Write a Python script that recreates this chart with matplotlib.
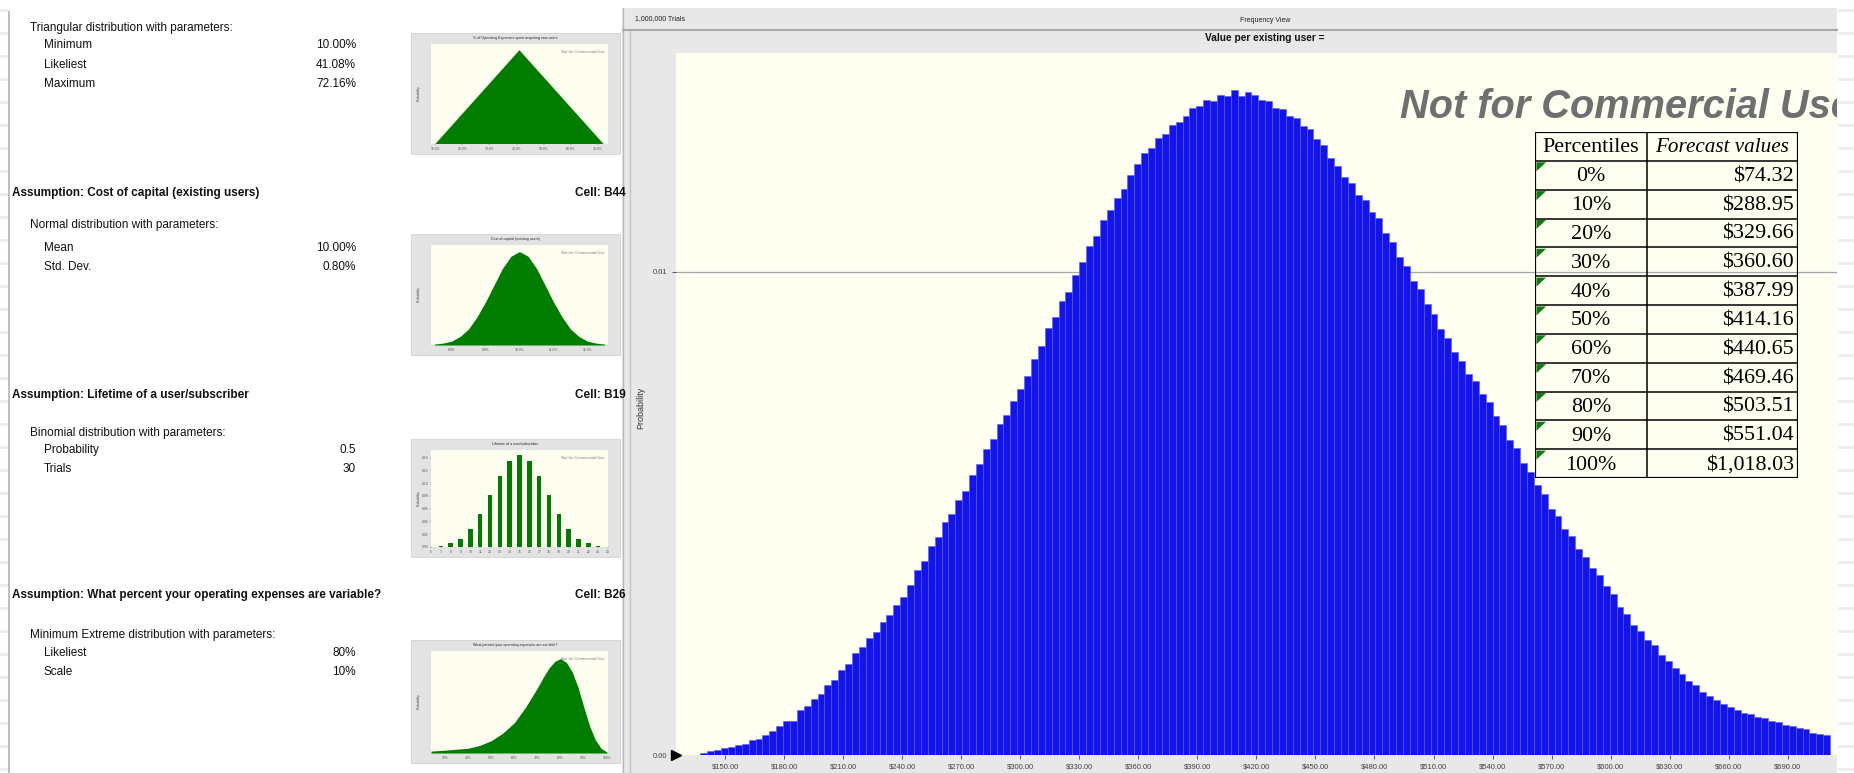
import matplotlib.pyplot as plt
import numpy as np
from matplotlib.patches import Rectangle, Polygon

plt.rcParams['font.family'] = ['Liberation Sans', 'DejaVu Sans']

# ---------------- data ----------------
tri_params = ['Minimum', 'Likeliest', 'Maximum']
tri_values = ['10.00%', '41.08%', '72.16%']
tri_x = [10.00, 41.08, 72.16]
tri_h = [0.0, 1.0, 0.0]

norm_params = ['Mean', 'Std. Dev.']
norm_values = ['10.00%', '0.80%']
norm_x = [7.5, 7.75, 8.0, 8.25, 8.5, 8.75, 9.0, 9.25, 9.5, 9.75, 10.0,
          10.25, 10.5, 10.75, 11.0, 11.25, 11.5, 11.75, 12.0, 12.25, 12.5]
norm_h = [0.01, 0.02, 0.04, 0.09, 0.17, 0.30, 0.46, 0.64, 0.82, 0.95, 1.0,
          0.95, 0.82, 0.64, 0.46, 0.30, 0.17, 0.09, 0.04, 0.02, 0.01]

binom_params = ['Probability', 'Trials']
binom_values = ['0.5', '30']
binom_k = [7, 8, 9, 10, 11, 12, 13, 14, 15, 16, 17, 18, 19, 20, 21, 22, 23]
binom_p = [0.002, 0.006, 0.013, 0.028, 0.051, 0.081, 0.112, 0.135, 0.144,
           0.135, 0.112, 0.081, 0.051, 0.028, 0.013, 0.006, 0.002]

minext_params = ['Likeliest', 'Scale']
minext_values = ['80%', '10%']
minext_x = [24, 30, 35, 40, 45, 50, 55, 60, 65, 70, 72.5, 75, 77.5, 80,
            82.5, 85, 87.5, 90, 92.5, 95, 97.5, 100]
minext_h = [0.02, 0.03, 0.04, 0.05, 0.08, 0.13, 0.21, 0.32, 0.49, 0.69, 0.80,
            0.90, 0.97, 1.0, 0.96, 0.86, 0.70, 0.49, 0.29, 0.14, 0.05, 0.01]

percentiles = ['0%', '10%', '20%', '30%', '40%', '50%', '60%', '70%', '80%', '90%', '100%']
forecast_values = ['$74.32', '$288.95', '$329.66', '$360.60', '$387.99', '$414.16',
                   '$440.65', '$469.46', '$503.51', '$551.04', '$1,018.03']

x_tick_values = [150, 180, 210, 240, 270, 300, 330, 360, 390, 420, 450, 480,
                 510, 540, 570, 600, 630, 660, 690]

# forecast histogram, probability per bin (x 1e-4), bins of $3.50 from $137.50
bin_start = 137.5
bin_width = 3.5
hist_prob_e4 = [
    0.5, 0.9, 1.0, 1.5, 1.6, 2.1, 2.3, 3.0, 3.3, 4.2,
    4.9, 6.0, 7.1, 7.0, 9.3, 10.1, 11.6, 12.7, 14.4, 15.6,
    17.5, 18.9, 21.0, 22.4, 24.3, 25.5, 27.6, 28.9, 31.1, 32.7,
    35.2, 38.3, 40.1, 43.2, 45.0, 48.1, 49.9, 52.8, 54.7, 57.9,
    60.2, 63.3, 65.4, 68.5, 70.3, 73.2, 75.8, 78.3, 82.0, 84.6,
    88.3, 90.6, 93.9, 95.7, 99.2, 101.9, 105.3, 107.4, 110.6, 112.7,
    115.3, 117.0, 119.9, 122.3, 124.6, 125.5, 127.6, 128.5, 130.4, 131.0,
    132.1, 133.8, 134.3, 135.4, 135.3, 136.5, 136.4, 137.6, 136.3, 137.2,
    136.6, 135.5, 135.3, 133.8, 133.6, 132.2, 131.8, 130.1, 129.5, 127.4,
    126.1, 123.4, 121.9, 119.5, 118.3, 115.9, 114.8, 112.4, 111.0, 108.0,
    106.1, 103.0, 101.1, 98.0, 96.3, 93.3, 91.2, 88.2, 86.3, 83.4,
    81.5, 78.9, 77.4, 74.7, 73.0, 70.1, 68.3, 65.2, 63.4, 60.4,
    58.6, 55.8, 53.9, 50.9, 49.5, 46.8, 45.3, 42.6, 41.0, 38.6,
    37.3, 35.0, 33.4, 30.7, 29.2, 26.8, 25.6, 23.8, 22.7, 20.7,
    19.5, 17.9, 16.8, 15.4, 14.4, 13.1, 12.3, 11.3, 10.6, 9.9,
    9.3, 8.7, 8.4, 7.9, 7.6, 7.1, 6.9, 6.3, 6.1, 5.6,
    5.3, 4.6, 4.3, 4.1,
]

# ---------------- figure ----------------
W, H = 1854, 773
fig = plt.figure(figsize=(W / 100, H / 100), dpi=100)
fig.patch.set_facecolor('white')
bg = fig.add_axes([0, 0, 1, 1])
bg.set_xlim(0, W)
bg.set_ylim(H, 0)
bg.axis('off')


def px(x0, y0, x1, y1):
    return [x0 / W, 1 - y1 / H, (x1 - x0) / W, (y1 - y0) / H]


# faint spreadsheet stripes at both edges
for y in np.arange(10, H, 23):
    bg.plot([0, 7], [y, y], color='#ececec', lw=2)
    bg.plot([1839, W], [y, y], color='#ececec', lw=2)
bg.plot([9, 9], [12, H], color='#aab4c4', lw=1.2)

# ---------------- left panel ----------------
FS = 8.5
txt = dict(fontsize=FS, color='#111111', va='center')


def param_block(y_head, head, names, values, y_rows):
    bg.text(30, y_head, head, **txt)
    for n, v, y in zip(names, values, y_rows):
        bg.text(44, y, n, **txt)
        bg.text(356, y, v, ha='right', fontsize=FS, color='#111111', va='center')


def assumption(y, title, cell):
    bg.text(12, y, title, fontsize=FS, fontweight='bold', color='#111111', va='center')
    bg.text(626, y, cell, fontsize=FS, fontweight='bold', color='#111111', va='center', ha='right')


def thumbnail(frame, title):
    x0, y0, x1, y1 = frame
    bg.add_patch(Rectangle((x0, y0), x1 - x0, y1 - y0, facecolor='#e3e3e3',
                           edgecolor='#d2d2d2', lw=0.6))
    bg.text((x0 + x1) / 2, y0 + 5, title, fontsize=2.6, ha='center', va='center', color='#222222')
    bg.text(x0 + 8, (y0 + y1) / 2, 'Probability', rotation=90, fontsize=2.4,
            ha='center', va='center', color='#444444')
    t = fig.add_axes(px(x0 + 20, y0 + 11, x1 - 12, y1 - 10))
    t.set_facecolor('#fefef0')
    for s in t.spines.values():
        s.set_visible(False)
    t.tick_params(labelsize=2.4, length=1, width=0.3, colors='#555555', pad=1)
    t.text(0.98, 0.92, 'Not for Commercial Use', transform=t.transAxes, fontsize=3,
           style='italic', color='#777777', ha='right', va='center')
    return t


GREEN = '#007d00'

param_block(28, 'Triangular distribution with parameters:', tri_params, tri_values, [45, 65, 84])
t1 = thumbnail((411, 33, 620, 154), '% of Operating Expenses spent acquiring new users')
t1.fill(tri_x, tri_h, color=GREEN, lw=0)
t1.set_xlim(8.4, 73.8)
t1.set_ylim(0, 1.066)
t1.set_xticks([10, 20, 30, 40, 50, 60, 70])
t1.set_xticklabels(['10.0%', '20.0%', '30.0%', '40.0%', '50.0%', '60.0%', '70.0%'])
t1.set_yticks([])

assumption(193, 'Assumption: Cost of capital (existing users)', 'Cell: B44')
param_block(225, 'Normal distribution with parameters:', norm_params, norm_values, [248, 267])
t2 = thumbnail((411, 234, 620, 355), 'Cost of capital (existing users)')
t2.fill_between(norm_x, norm_h, color=GREEN, lw=0)
t2.set_xlim(7.4, 12.6)
t2.set_ylim(0, 1.07)
t2.set_xticks([8, 9, 10, 11, 12])
t2.set_xticklabels(['8.0%', '9.0%', '10.0%', '11.0%', '12.0%'])
t2.set_yticks([])

assumption(395, 'Assumption: Lifetime of a user/subscriber', 'Cell: B19')
param_block(433, 'Binomial distribution with parameters:', binom_params, binom_values, [450, 469])
t3 = thumbnail((411, 439, 620, 557), 'Lifetime of a user/subscriber')
t3.bar(binom_k, binom_p, width=0.45, color=GREEN)
t3.set_xlim(6, 24)
t3.set_ylim(0, 0.152)
t3.set_xticks(range(6, 25))
t3.set_yticks([0, 0.02, 0.04, 0.06, 0.08, 0.10, 0.12, 0.14])
t3.set_yticklabels(['0.00', '0.02', '0.04', '0.06', '0.08', '0.10', '0.12', '0.14'])

assumption(595, 'Assumption: What percent your operating expenses are variable?', 'Cell: B26')
param_block(635, 'Minimum Extreme distribution with parameters:', minext_params, minext_values, [653, 672])
t4 = thumbnail((411, 640, 620, 763), 'What percent your operating expenses are variable?')
t4.fill_between(minext_x, minext_h, color=GREEN, lw=0)
t4.set_xlim(24, 100.5)
t4.set_ylim(0, 1.08)
t4.set_xticks([30, 40, 50, 60, 70, 80, 90, 100])
t4.set_xticklabels(['30%', '40%', '50%', '60%', '70%', '80%', '90%', '100%'])
t4.set_yticks([])

# ---------------- main forecast chart ----------------
bg.add_patch(Rectangle((622, 8), 1837 - 622, H - 8, facecolor='#e8e8e8', edgecolor='none'))
bg.plot([623, 623], [8, H], color='#b8b8b8', lw=1)
bg.plot([623, 1837], [30, 30], color='#a8a8a8', lw=1.5)
bg.plot([630, 630], [31, H], color='#c4c4c4', lw=1)
bg.text(635, 19, '1,000,000 Trials', fontsize=5, color='#222222', va='center')
bg.text(1265, 20, 'Frequency View', fontsize=5, color='#222222', va='center', ha='center')
bg.text(1265, 38, 'Value per existing user =', fontsize=7.3, fontweight='bold',
        color='#111111', va='center', ha='center')
bg.text(641, 408, 'Probability', rotation=90, fontsize=6.5, color='#333333',
        va='center', ha='center')

x_lo, x_hi = 125.1, 715.0
ax = fig.add_axes(px(676, 53, 1837, 755))
ax.set_facecolor('#fefef1')
centers = bin_start + bin_width * (np.arange(len(hist_prob_e4)) + 0.5)
ax.bar(centers, np.array(hist_prob_e4) * 1e-4, width=bin_width, color='#1313ec',
       edgecolor='#5a5aff', linewidth=0.4, zorder=2)
ax.axhline(0.01, color='#a6a6a6', lw=0.9, zorder=1)
ax.set_xlim(x_lo, x_hi)
ax.set_ylim(0, 0.01452)
ax.set_xticks(x_tick_values)
ax.set_xticklabels([f'${v:.2f}' for v in x_tick_values])
ax.set_yticks([0, 0.01])
ax.set_yticklabels(['0.00', '0.01'])
ax.tick_params(labelsize=5.5, colors='#444444', length=3, width=0.6, pad=3)
for s in ax.spines.values():
    s.set_visible(False)
ax.plot([x_lo], [0], marker='>', ms=7, color='black', clip_on=False, zorder=6)

ax.text(1400, 118, 'Not for Commercial Use', transform=bg.transData, clip_on=True,
        fontsize=28.6, fontweight='bold', style='italic', color='#6f6f6f',
        ha='left', va='baseline', zorder=5)

# percentile table
bg.add_patch(Rectangle((1529, 127), 275, 357, facecolor='white', edgecolor='#d6d6d6',
                       lw=1, zorder=3))
tax = fig.add_axes(px(1535, 132, 1798, 478))
tax.set_xlim(0, 263)
tax.set_ylim(12, 0)
tax.axis('off')
col = 112
for r in range(13):
    tax.plot([0, 263], [r, r], color='black', lw=1.6 if r in (0, 12) else 1.1)
for c in (0, col, 263):
    tax.plot([c, c], [0, 12], color='black', lw=1.6 if c != col else 1.1)
serif = ['Liberation Serif', 'DejaVu Serif']
TFS = 15.8
tax.text(col / 2, 0.55, 'Percentiles', family=serif, fontsize=TFS, ha='center', va='center')
tax.text((col + 263) / 2, 0.55, 'Forecast values', family=serif, fontsize=TFS - 0.6,
         style='italic', ha='center', va='center')
for i, (p, v) in enumerate(zip(percentiles, forecast_values)):
    y = i + 1.55
    tax.text(col / 2, y, p, family=serif, fontsize=TFS, ha='center', va='center')
    tax.text(259, y, v, family=serif, fontsize=TFS, ha='right', va='center')
    tax.add_patch(Polygon([(1.5, i + 1.05), (11, i + 1.05), (1.5, i + 1.36)],
                          closed=True, color='#0f7a0f', lw=0))

fig.savefig('out.png', dpi=100)
